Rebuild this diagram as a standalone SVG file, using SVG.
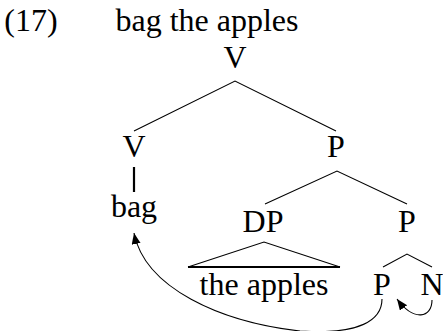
<svg xmlns="http://www.w3.org/2000/svg" width="443" height="331" viewBox="0 0 443 331">
<style>
.e{stroke:#000;stroke-width:1.1;fill:none}
.t{stroke:#000;stroke-width:2.2;fill:none}
.arr{stroke:#000;stroke-width:1.1;fill:none;marker-end:url(#ah)}
</style>
<defs>
<marker id="ah" markerWidth="12" markerHeight="10" refX="11" refY="4.5" orient="auto" markerUnits="userSpaceOnUse" viewBox="0 0 12 10">
<path d="M0,0 L11,4.5 L0,9 Z" fill="#000"/>
</marker>
</defs>
<g id="label-17"><text style="font-family:'Liberation Serif',serif;font-size:32px" text-anchor="middle" x="31" y="31">(17)</text></g>
<g id="title"><text style="font-family:'Liberation Serif',serif;font-size:32px" text-anchor="middle" x="207" y="31">bag the apples</text></g>
<g id="n-V-top"><text style="font-family:'Liberation Serif',serif;font-size:32px" text-anchor="middle" x="235" y="68">V</text></g>
<g id="n-V"><text style="font-family:'Liberation Serif',serif;font-size:32px" text-anchor="middle" x="134" y="157">V</text></g>
<g id="n-P1"><text style="font-family:'Liberation Serif',serif;font-size:32px" text-anchor="middle" x="336" y="157">P</text></g>
<g id="n-bag"><text style="font-family:'Liberation Serif',serif;font-size:32px" text-anchor="middle" x="134" y="217">bag</text></g>
<g id="n-DP"><text style="font-family:'Liberation Serif',serif;font-size:32px" text-anchor="middle" x="263" y="232">DP</text></g>
<g id="n-P2"><text style="font-family:'Liberation Serif',serif;font-size:32px" text-anchor="middle" x="407" y="232">P</text></g>
<g id="n-theapples"><text style="font-family:'Liberation Serif',serif;font-size:32px" text-anchor="middle" x="264" y="295">the apples</text></g>
<g id="n-P3"><text style="font-family:'Liberation Serif',serif;font-size:32px" text-anchor="middle" x="382" y="295">P</text></g>
<g id="n-N"><text style="font-family:'Liberation Serif',serif;font-size:32px" text-anchor="middle" x="432" y="295">N</text></g>
<g id="connectors">
<path class="e" d="M134,131 L235,81 L336,131"/>
<path class="t" d="M134,167 L134,192"/>
<path class="e" d="M265,204 L337,171 L407,204"/>
<path class="e" d="M188,267 L264,242 L340,267"/>
<path class="t" d="M188,267 L340,267"/>
<path class="e" d="M383,267 L407,254 L432,267"/>
<path class="arr" d="M382,299 C382,320 360,335 300,331 C220,322 145,288 134,233"/>
<path class="arr" d="M432,300 C432,318 414,322 397,299"/>
</g>
</svg>
